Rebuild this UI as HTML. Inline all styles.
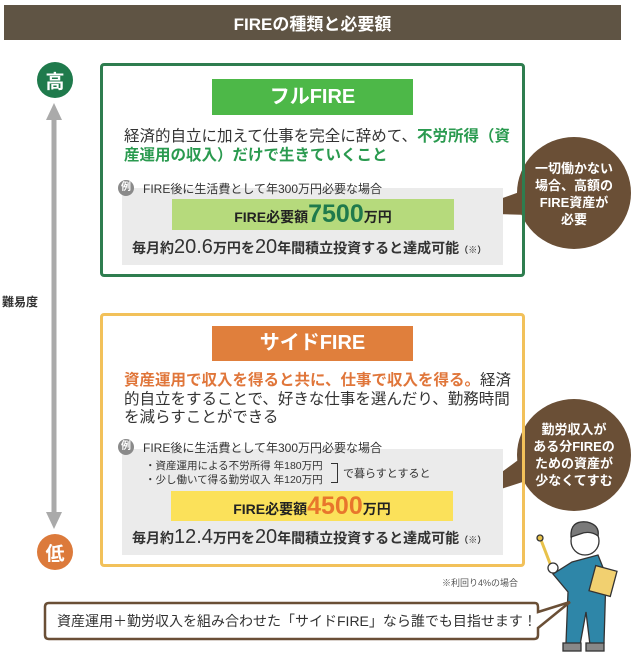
<!DOCTYPE html>
<html><head><meta charset="utf-8"><style>
*{margin:0;padding:0;box-sizing:border-box}
body{width:640px;height:661px;background:#fff;position:relative;overflow:hidden;font-family:"Liberation Sans","Noto Sans CJK JP",sans-serif;color:#333}
.a{position:absolute;white-space:nowrap}
.b{font-weight:bold}
</style></head><body>
<div class="a" style="left:4px;top:5px;width:617px;height:35px;background:#5f5444"></div>
<div class="a b" style="left:4px;top:10px;width:617px;text-align:center;color:#fff;font-size:17px">FIREの種類と必要額</div>

<svg class="a" style="left:0;top:0" width="640" height="661">
<circle cx="55" cy="80" r="18" fill="#1f7a4c"/>
<circle cx="55" cy="552" r="18" fill="#dc7a3b"/>
<line x1="54" y1="115" x2="54" y2="515" stroke="#aaa" stroke-width="5"/>
<polygon points="46,120 62,120 54,103" fill="#aaa"/>
<polygon points="46,512 62,512 54,529" fill="#aaa"/>
<ellipse cx="574" cy="193" rx="57" ry="56" fill="#6a4f36"/>
<polygon points="525,190 530,215 461,213" fill="#6a4f36"/>
<ellipse cx="574" cy="455" rx="57" ry="56" fill="#6a4f36"/>
<polygon points="525,455 535,478 461,502" fill="#6a4f36"/>
<!-- person -->
<g stroke="#333" stroke-width="1.3">
<line x1="541" y1="540" x2="551" y2="566" stroke="#e8c24a" stroke-width="3"/>
<circle cx="540" cy="538" r="3" fill="#e8c24a"/>
<path d="M572 562 L598 555 L606 575 L604 643 L590 645 L586 612 L580 645 L566 643 L568 592 L553 574 Z" fill="#2e86a8"/>
<circle cx="585" cy="541" r="14" fill="#fff"/>
<path d="M571 537 Q570 520 587 522 Q600 525 598 536 Q590 530 580 534 Z" fill="#7a7a7a"/>
<rect x="592" y="568" width="22" height="26" fill="#f1d070" transform="rotate(15 603 581)"/>
<circle cx="553" cy="568" r="5" fill="#fff"/>
<rect x="563" y="643" width="18" height="8" fill="#888"/>
<rect x="586" y="643" width="18" height="8" fill="#888"/>
</g>
<path d="M49 603 H535 Q538 603 538 607 V612 L570 602 L538 628 V635 Q538 639 534 639 H49 Q45 639 45 635 V607 Q45 603 49 603Z" fill="#fff" stroke="#6a4f36" stroke-width="2.5"/>
</svg>
<div class="a b" style="left:36px;top:67px;width:38px;text-align:center;color:#fff;font-size:19px">高</div>
<div class="a b" style="left:36px;top:539px;width:38px;text-align:center;color:#fff;font-size:19px">低</div>
<div class="a b" style="left:2px;top:293px;font-size:12px;color:#333">難易度</div>

<!-- green box -->
<div class="a" style="left:100px;top:63px;width:425px;height:214px;border:3px solid #2e7d4f;border-radius:4px"></div>
<div class="a b" style="left:212px;top:79px;width:201px;height:36px;background:#4db848;color:#fff;font-size:20px;text-align:center;line-height:36px">フルFIRE</div>
<div class="a" style="left:124px;top:127px;font-size:15.5px;line-height:19px;color:#333">経済的自立に加えて仕事を完全に辞めて、<span class="b" style="color:#2a9a4f">不労所得（資<br>産運用の収入）だけで生きていくこと</span></div>
<div class="a" style="left:122px;top:188px;width:381px;height:77px;background:#ebebeb"></div>
<div class="a b" style="left:118px;top:180px;width:16px;height:16px;border-radius:50%;background:#8a8a8a;color:#fff;font-size:10px;text-align:center;line-height:16px">例</div>
<div class="a" style="left:143px;top:180px;font-size:12px">FIRE後に生活費として年300万円必要な場合</div>
<div class="a b" style="left:172px;top:199px;width:282px;height:31px;background:#b6da7c;text-align:center;line-height:31px;font-size:14px;color:#222">FIRE必要額<span style="font-size:25px;color:#1f7a4c">7500</span>万円</div>
<div class="a b" style="left:132px;top:236px;font-size:14px;color:#333">毎月約<span style="font-size:20px;font-weight:normal">20.6</span>万円を<span style="font-size:20px;font-weight:normal">20</span>年間積立投資すると達成可能<span style="font-size:9px">（※）</span></div>
<div class="a b" style="left:522px;top:160px;width:104px;text-align:center;color:#fff;font-size:13px;line-height:17px">一切働かない<br>場合、高額の<br>FIRE資産が<br>必要</div>

<!-- orange box -->
<div class="a" style="left:100px;top:313px;width:425px;height:254px;border:3px solid #f2c15a;border-radius:4px"></div>
<div class="a b" style="left:212px;top:326px;width:201px;height:35px;background:#e07f3c;color:#fff;font-size:20px;text-align:center;line-height:35px">サイドFIRE</div>
<div class="a" style="left:124px;top:372px;font-size:15.5px;line-height:18.5px;color:#333"><span class="b" style="color:#e0763a">資産運用で収入を得ると共に、仕事で収入を得る。</span>経済<br>的自立をすることで、好きな仕事を選んだり、勤務時間<br>を減らすことができる</div>
<div class="a" style="left:122px;top:449px;width:381px;height:106px;background:#ebebeb"></div>
<div class="a b" style="left:118px;top:439px;width:16px;height:16px;border-radius:50%;background:#8a8a8a;color:#fff;font-size:10px;text-align:center;line-height:16px">例</div>
<div class="a" style="left:143px;top:439px;font-size:12px">FIRE後に生活費として年300万円必要な場合</div>
<div class="a" style="left:145px;top:459px;font-size:10.5px;line-height:14px">・資産運用による不労所得 年180万円<br>・少し働いて得る勤労収入 年120万円</div>
<div class="a" style="left:331px;top:463px;width:7px;height:20px;border:1px solid #333;border-left:none"></div>
<div class="a" style="left:343px;top:465px;font-size:11px">で暮らすとすると</div>
<div class="a b" style="left:171px;top:491px;width:282px;height:30px;background:#fbe15a;text-align:center;line-height:30px;font-size:14px;color:#222">FIRE必要額<span style="font-size:25px;color:#e8762c">4500</span>万円</div>
<div class="a b" style="left:132px;top:526px;font-size:14px;color:#333">毎月約<span style="font-size:20px;font-weight:normal">12.4</span>万円を<span style="font-size:20px;font-weight:normal">20</span>年間積立投資すると達成可能<span style="font-size:9px">（※）</span></div>
<div class="a b" style="left:522px;top:421px;width:104px;text-align:center;color:#fff;font-size:13px;line-height:17px">勤労収入が<br>ある分FIREの<br>ための資産が<br>少なくてすむ</div>
<div class="a" style="left:442px;top:576px;font-size:9px;color:#555">※利回り4%の場合</div>
<div class="a" style="left:57px;top:611px;font-size:14px;color:#333">資産運用＋勤労収入を組み合わせた「サイドFIRE」なら誰でも目指せます！</div>
</body></html>
